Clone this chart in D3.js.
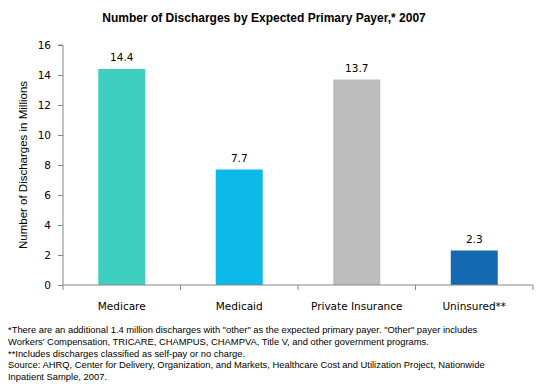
<!DOCTYPE html>
<html><head><meta charset="utf-8">
<script src="https://cdn.jsdelivr.net/npm/d3@7"></script>
<style>body{margin:0;background:#fff}svg{display:block}</style>
</head><body><svg id="c" width="543" height="391"></svg>
<script>
const categories = ["Medicare", "Medicaid", "Private Insurance", "Uninsured**"];
const values = [14.4, 7.7, 13.7, 2.3];
const valueLabels = ["14.4", "7.7", "13.7", "2.3"];
const colors = ["#3FCFC0", "#0BB8E8", "url(#dots)", "#1569B3"];
const yTicks = [0, 2, 4, 6, 8, 10, 12, 14, 16];
const title = "Number of Discharges by Expected Primary Payer,* 2007";
const yLabel = "Number of Discharges in Millions";
const notes = [
  "*There are an additional 1.4 million discharges with \"other\" as the expected primary payer.  \"Other\" payer includes",
  "Workers' Compensation, TRICARE, CHAMPUS, CHAMPVA, Title V, and other government programs.",
  "**Includes discharges classified as self-pay or no charge.",
  "Source:  AHRQ, Center for Delivery, Organization, and Markets, Healthcare Cost and Utilization Project, Nationwide",
  "Inpatient Sample, 2007."
];

const svg = d3.select("#c");
const m = {l: 63, r: 10, t: 45, b: 106};
const x = d3.scaleBand().domain(categories).range([m.l, 533]).paddingInner(0.6).paddingOuter(0.3);
const y = d3.scaleLinear().domain([0, 16]).range([285, 45]);

const defs = svg.append("defs");
const pat = defs.append("pattern").attr("id", "dots").attr("patternUnits", "userSpaceOnUse").attr("width", 4).attr("height", 4);
pat.append("rect").attr("width", 4).attr("height", 4).attr("fill", "#BBBBBB");
pat.append("rect").attr("x", 0).attr("y", 0).attr("width", 1).attr("height", 1).attr("fill", "#CDCDCD");
pat.append("rect").attr("x", 2).attr("y", 2).attr("width", 1).attr("height", 1).attr("fill", "#C6C6C6");

svg.append("text").attr("x", 264).attr("y", 22).attr("text-anchor", "middle")
  .attr("font-family", "Liberation Sans, Arial, sans-serif").attr("font-weight", "bold").attr("font-size", 12)
  .attr("fill", "#000").text(title);

svg.selectAll("rect.bar").data(values).enter().append("rect").attr("class", "bar")
  .attr("x", (d, i) => x(categories[i])).attr("width", x.bandwidth())
  .attr("y", d => y(d)).attr("height", d => y(0) - y(d))
  .attr("fill", (d, i) => colors[i]);

svg.selectAll("text.val").data(values).enter().append("text").attr("class", "val")
  .attr("x", (d, i) => x(categories[i]) + x.bandwidth() / 2).attr("y", d => y(d) - 8)
  .attr("text-anchor", "middle").attr("font-family", "DejaVu Sans, Verdana, sans-serif")
  .attr("font-size", 10.5).attr("fill", "#000").text((d, i) => valueLabels[i]);

const ya = svg.append("g").attr("transform", `translate(${m.l},0)`)
  .call(d3.axisLeft(y).tickValues(yTicks).tickSize(5).tickPadding(7).tickFormat(d3.format("d")));
ya.select(".domain").attr("stroke", "#868686").attr("d", `M-5,${y(16)}H0V${y(0)}`);
ya.selectAll(".tick line").attr("stroke", "#868686");
ya.selectAll("text").attr("font-family", "DejaVu Sans, Verdana, sans-serif").attr("font-size", 10.5).attr("fill", "#000");

const xa = svg.append("g").attr("transform", `translate(0,${y(0)})`);
xa.append("line").attr("x1", m.l).attr("x2", 533).attr("stroke", "#868686");
const bounds = d3.range(categories.length + 1).map(i => m.l + i * (533 - m.l) / categories.length);
xa.selectAll("line.tk").data(bounds).enter().append("line").attr("class", "tk")
  .attr("x1", d => d).attr("x2", d => d).attr("y1", 0).attr("y2", 5).attr("stroke", "#868686");
xa.selectAll("text").data(categories).enter().append("text")
  .attr("x", d => x(d) + x.bandwidth() / 2).attr("y", 25).attr("text-anchor", "middle")
  .attr("font-family", "DejaVu Sans, Verdana, sans-serif").attr("font-size", 10.5).attr("fill", "#000")
  .text(d => d);

svg.append("text").attr("transform", `translate(27,${(y(0) + y(16)) / 2}) rotate(-90)`)
  .attr("text-anchor", "middle").attr("font-family", "Liberation Sans, Arial, sans-serif")
  .attr("font-size", 11.5).attr("fill", "#000").text(yLabel);

svg.selectAll("text.note").data(notes).enter().append("text").attr("class", "note")
  .attr("x", 8).attr("y", (d, i) => 333 + i * 11.8)
  .attr("font-family", "Liberation Sans, Arial, sans-serif").attr("font-size", 9.4).attr("fill", "#000")
  .text(d => d);
</script></body></html>
